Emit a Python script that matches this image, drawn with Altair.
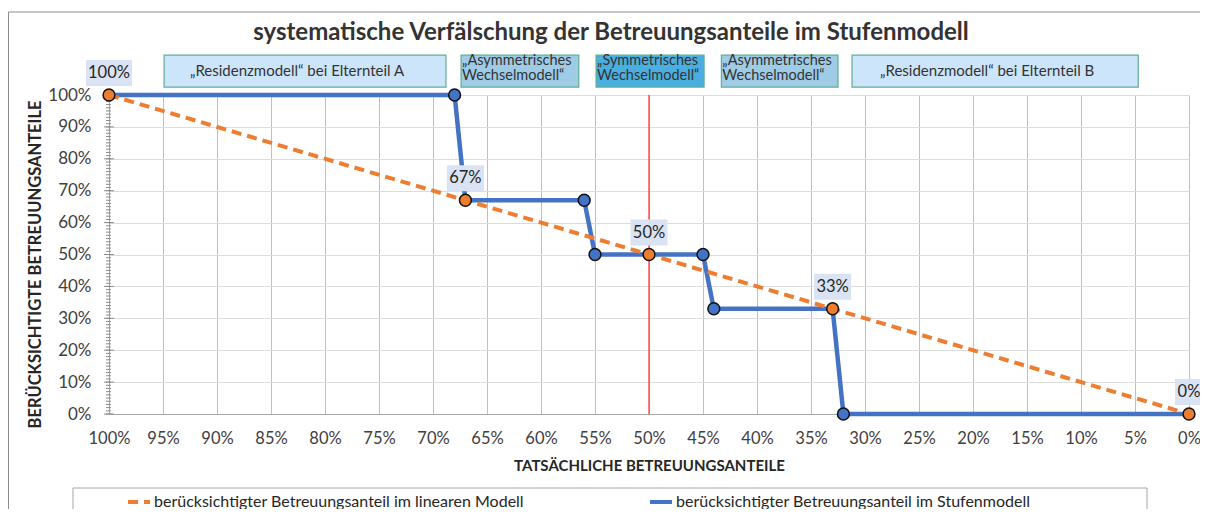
import altair as alt
import pandas as pd

FONT = "Lato"

TITLE = "systematische Verfälschung der Betreuungsanteile im Stufenmodell"
X_TITLE = "TATSÄCHLICHE BETREUUNGSANTEILE"
Y_TITLE = "BERÜCKSICHTIGTE BETREUUNGSANTEILE"
S_LIN = "berücksichtigter Betreuungsanteil im linearen Modell"
S_STEP = "berücksichtigter Betreuungsanteil im Stufenmodell"

# linear model (labelled points)
lin_x = [100, 67, 50, 33, 0]
lin_y = [100, 67, 50, 33, 0]
lin_labels = ["100%", "67%", "50%", "33%", "0%"]

# step model
step_x = [100, 68, 67, 56, 55, 50, 45, 44, 33, 32, 0]
step_y = [100, 100, 67, 67, 50, 50, 50, 33, 33, 0, 0]
step_marker_x = [68, 56, 55, 45, 44, 32]
step_marker_y = [100, 67, 50, 50, 33, 0]

# symmetric reference line
sym_x = [50]

# model boxes above the plot (in % of actual care share)
box_from = [94.9, 67.4, 54.9, 43.3, 31.2]
box_to = [68.8, 56.5, 44.9, 32.5, 4.7]
box_line1 = ["„Residenzmodell“ bei Elternteil A", "„Asymmetrisches", "„Symmetrisches",
             "„Asymmetrisches", "„Residenzmodell“ bei Elternteil B"]
box_line2 = ["", "Wechselmodell“", "Wechselmodell“", "Wechselmodell“", ""]
box_kind = ["residenz", "asym", "sym", "asym", "residenz"]

x_ticks = list(range(100, -1, -5))
y_ticks = list(range(0, 101, 10))
y_minor = list(range(0, 101, 1))

ORANGE = "#ED7D31"
BLUE = "#4472C4"

xscale = alt.Scale(domain=[100, 0], nice=False, zero=False)
yscale = alt.Scale(domain=[0, 100], nice=False, zero=False)

xaxis = alt.Axis(values=x_ticks, tickCount=40, labelExpr="datum.value + '%'", grid=True, gridColor="#bfbfbf",
                 gridWidth=1, ticks=False, domainColor="#a6a6a6", labelFont=FONT, labelFontSize=16.5,
                 labelColor="#404040", labelPadding=16, labelFlush=False, labelOverlap=False,
                 title=X_TITLE, titleFont=FONT, titleFontSize=15, titleFontWeight="bold",
                 titleColor="#262626", titleX=540, titleY=51, titleBaseline="middle", titleAlign="center")
yaxis = alt.Axis(values=y_ticks, tickCount=20, labelExpr="datum.value + '%'", grid=True, gridColor="#dcdcdc",
                 gridWidth=1, ticks=False, domainColor="#a6a6a6", labelFont=FONT, labelFontSize=17,
                 labelColor="#404040", labelPadding=18, labelFlush=False, labelOverlap=False,
                 title=Y_TITLE, titleFont=FONT, titleFontSize=16.5, titleFontWeight="bold",
                 titleColor="#262626", titleX=-74, titleY=169, titleBaseline="middle", titleAlign="center")


def X(field):
    return alt.X(field, type="quantitative", scale=xscale, axis=xaxis)


def Y(field):
    return alt.Y(field, type="quantitative", scale=yscale, axis=yaxis)


def legend():
    return alt.Legend(orient="none", legendX=17, legendY=394, direction="horizontal", padding=0,
                      symbolType="stroke", symbolSize=484, symbolStrokeWidth=4,
                      labelFont=FONT, labelFontSize=16, labelColor="#262626",
                      labelOffset=2, labelLimit=800, columnPadding=118)


color_enc = alt.Color("series:N", title="",
                      scale=alt.Scale(domain=[S_LIN, S_STEP], range=[ORANGE, BLUE]),
                      legend=legend())
dash_enc = alt.StrokeDash("series:N", title="",
                          scale=alt.Scale(domain=[S_LIN, S_STEP], range=[[10, 6], [1, 0]]),
                          legend=legend())

df_lin = pd.DataFrame({"x": lin_x, "y": lin_y, "label": lin_labels, "series": S_LIN,
                       "i": list(range(len(lin_x)))})
df_step = pd.DataFrame({"x": step_x, "y": step_y, "series": S_STEP, "i": list(range(len(step_x)))})
df_step_m = pd.DataFrame({"x": step_marker_x, "y": step_marker_y})
df_sym = pd.DataFrame({"x": sym_x, "ya": [0], "yb": [100]})
df_box = pd.DataFrame({"x1": box_from, "x2": box_to, "l1": box_line1, "l2": box_line2, "kind": box_kind})
df_box["xm"] = (df_box["x1"] + df_box["x2"]) / 2
df_box["top"] = 112.5
df_box["bot"] = 102.5
df_box["yc"] = 107.5
df_box["y1"] = 110.6
df_box["y2"] = 105.9
df_minor = pd.DataFrame({"t": y_minor})
df_major = pd.DataFrame({"t": y_ticks})
df_one = pd.DataFrame({"a": [0]})

box_fill = alt.Color("kind:N", legend=None,
                     scale=alt.Scale(domain=["residenz", "asym", "sym"],
                                     range=["#cde5fa", "#9ecbe6", "#4aafe0"]))

# outer chart frame (top and left edges; the rest lies outside the picture)
frame_top = alt.Chart(df_one).mark_rule(stroke="#8c8c8c", strokeWidth=1).encode(
    x=alt.value(-100.5), x2=alt.value(1130), y=alt.value(-83))
frame_left = alt.Chart(df_one).mark_rule(stroke="#8c8c8c", strokeWidth=1).encode(
    x=alt.value(-100.5), y=alt.value(-83), y2=alt.value(520))

legend_box = alt.Chart(df_one).mark_rect(fillOpacity=0, stroke="#a6a6a6", strokeWidth=1).encode(
    x=alt.value(-36), x2=alt.value(1038), y=alt.value(393), y2=alt.value(460))

boxes = alt.Chart(df_box).mark_rect(stroke="#5fae8f", strokeWidth=1.2).encode(
    x=X("x1"), x2="x2", y=Y("top"), y2="bot", fill=box_fill)

single = df_box[df_box["l2"] == ""]
double = df_box[df_box["l2"] != ""]

box_text_single = alt.Chart(single).mark_text(font=FONT, fontSize=15, color="#333333", dx=-8,
                                              baseline="middle").encode(
    x=X("xm"), y=Y("yc"), text="l1:N")
box_text_l1 = alt.Chart(double).mark_text(font=FONT, fontSize=14.5, color="#333333", align="left", dx=1,
                                          baseline="middle").encode(
    x=X("x1"), y=Y("y1"), text="l1:N")
box_text_l2 = alt.Chart(double).mark_text(font=FONT, fontSize=14.5, color="#333333", align="left", dx=1,
                                          baseline="middle").encode(
    x=X("x1"), y=Y("y2"), text="l2:N")

sym_rule = alt.Chart(df_sym).mark_rule(color="#ff2a2a", strokeWidth=1.2).encode(
    x=X("x"), y=Y("ya"), y2="yb")

minor_ticks = alt.Chart(df_minor).mark_rule(color="#8c8c8c", strokeWidth=1).encode(
    y=Y("t"), x=alt.value(-3), x2=alt.value(2))
major_ticks = alt.Chart(df_major).mark_rule(color="#8c8c8c", strokeWidth=1).encode(
    y=Y("t"), x=alt.value(-5), x2=alt.value(5))

step_line = alt.Chart(df_step).mark_line(strokeWidth=4.5).encode(
    x=X("x"), y=Y("y"), color=color_enc, strokeDash=dash_enc, order="i:Q")
step_pts = alt.Chart(df_step_m).mark_point(shape="circle", filled=True, fill=BLUE, stroke="#111111",
                                           strokeWidth=1.5, size=140, opacity=1).encode(
    x=X("x"), y=Y("y"))
lin_line = alt.Chart(df_lin).mark_line(strokeWidth=4).encode(
    x=X("x"), y=Y("y"), color=color_enc, strokeDash=dash_enc, order="i:Q")
lin_pts = alt.Chart(df_lin).mark_point(shape="circle", filled=True, fill=ORANGE, stroke="#111111",
                                       strokeWidth=1.5, size=140, opacity=1).encode(
    x=X("x"), y=Y("y"))

label_bg = alt.Chart(df_lin).transform_calculate(
    hw="4.5*length(datum.label)+5",
    path="'M' + (-datum.hw) + ',-13H' + datum.hw + 'V13H' + (-datum.hw) + 'Z'"
).mark_point(filled=True, fill="#dae3f3", strokeOpacity=0, opacity=1, size=4, yOffset=-22).encode(
    x=X("x"), y=Y("y"), shape=alt.Shape("path:N", scale=None, legend=None))
labels = alt.Chart(df_lin).mark_text(font=FONT, fontSize=16.5, color="#262626", yOffset=-22,
                                     baseline="middle").encode(
    x=X("x"), y=Y("y"), text="label:N")

chart = alt.layer(
    frame_top, frame_left, boxes, box_text_single, box_text_l1, box_text_l2, sym_rule, minor_ticks,
    major_ticks, step_line, step_pts, lin_line, lin_pts, label_bg, labels, legend_box
).properties(
    width=1080, height=319,
    autosize=alt.AutoSizeParams(type="none"),
    padding={"left": 101, "top": 87, "right": 11, "bottom": 95},
    title=alt.TitleParams(text=TITLE, font=FONT, fontSize=24, fontWeight="bold", color="#333333",
                          anchor="middle", frame="group", offset=0, baseline="alphabetic",
                          dx=-38, dy=52),
    background="white",
).configure_view(strokeWidth=0)

chart.save("out.html", embed_options={"renderer": "svg", "actions": False})
